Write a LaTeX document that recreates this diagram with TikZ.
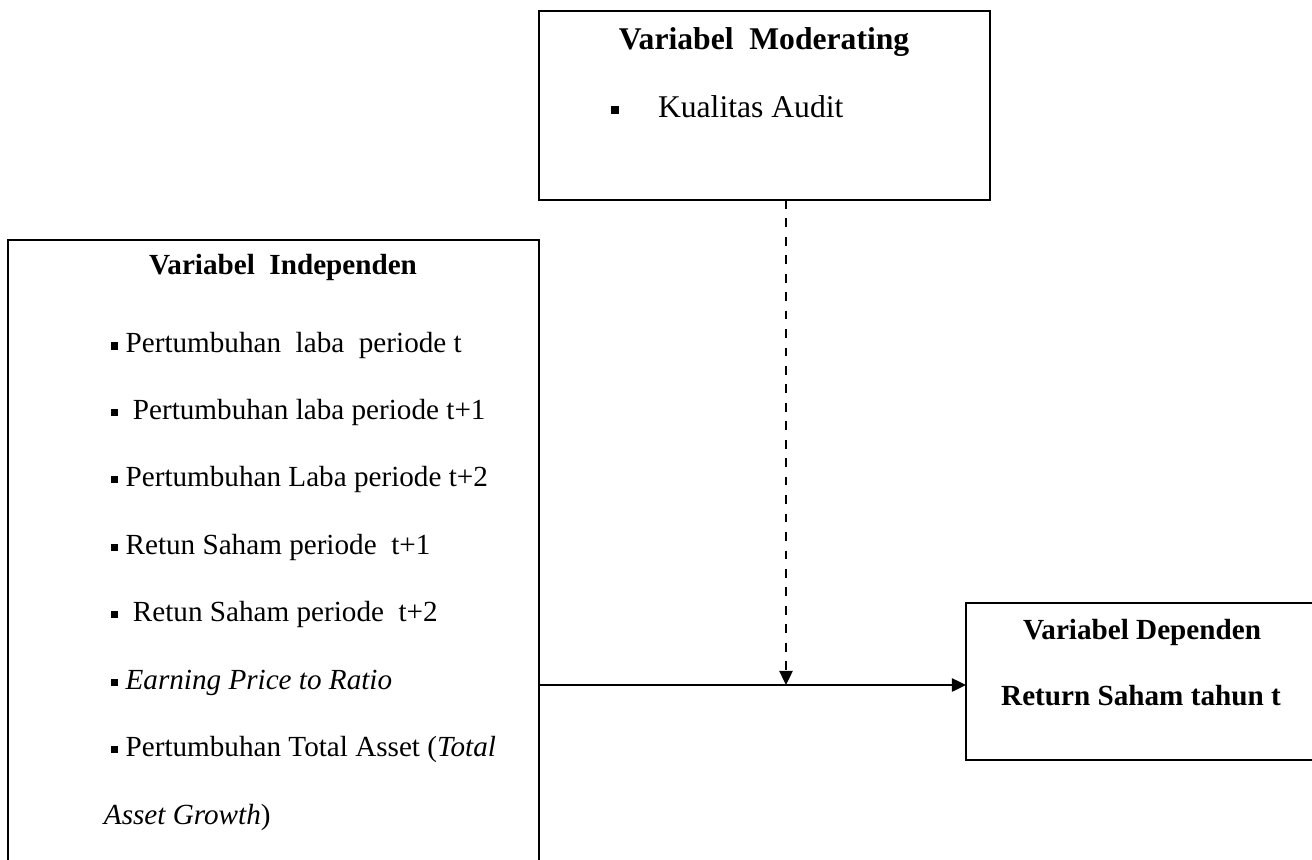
\documentclass[tikz,border=0pt]{standalone}
\usepackage{fontspec}
\setmainfont{Liberation Serif}
\usetikzlibrary{arrows.meta}
\newcommand{\sqb}[1][4.2pt]{\rule[1.7pt]{#1}{#1}}

\begin{document}
\begin{tikzpicture}[x=0.02cm, y=-0.02cm, >={Triangle[length=8pt,width=7.5pt]}, line width=1.1pt,
    box/.style={draw, inner sep=0pt, outer sep=0pt},
    txt/.style={font=\fontsize{16.6}{20}\selectfont, inner sep=0pt},
    head/.style={font=\fontsize{16.6}{20}\selectfont\bfseries, inner sep=0pt, anchor=mid},
    item/.style={txt, anchor=mid west}]
    \useasboundingbox (0,0) rectangle (1312,859);

    % Moderating box
    \node[box, minimum width=9.02cm, minimum height=3.78cm] (mod) at (764.5,105.5) {};
    \node[head, font=\fontsize{18}{22}\selectfont\bfseries] (modtitle) at (764,45) {Variabel\ \ Moderating};
    \node[item, font=\fontsize{18}{22}\selectfont] (audit) at (610,113) {\sqb[4.6pt]\hspace{0.78cm}Kualitas Audit};

    % Independent box
    \node[box, minimum width=10.62cm, minimum height=12.6cm] (indep) at (273.5,555) {};
    \node[head] (indeptitle) at (283,270.5) {Variabel\ \ Independen};
    \node[item] (ind1) at (110,348.5) {\sqb\ Pertumbuhan\ \ laba\ \ periode t};
    \node[item] (ind2) at (110,415) {\sqb\ \ Pertumbuhan laba periode t+1};
    \node[item] (ind3) at (110,482) {\sqb\ Pertumbuhan Laba periode t+2};
    \node[item] (ind4) at (110,550) {\sqb\ Retun Saham periode\ \ t+1};
    \node[item] (ind5) at (110,617) {\sqb\ \ Retun Saham periode\ \ t+2};
    \node[item] (ind6) at (110,685) {\sqb\ \textit{Earning Price to Ratio}};
    \node[item] (ind7) at (110,752) {\sqb\ Pertumbuhan Total Asset (\textit{Total}};
    \node[item] (ind8) at (103,820) {\textit{Asset Growth})};

    % Dependent box
    \node[box, minimum width=7.08cm, minimum height=3.14cm] (dep) at (1143,681.5) {};
    \node[head] (deptitle) at (1142,635.5) {Variabel Dependen};
    \node[head] (depitem) at (1141,701.5) {Return Saham tahun t};

    % Arrows
    \coordinate (junc) at (786,685);
    \draw[->] (indep.east |- junc) -- (dep.west |- junc);
    \draw[->, dash pattern=on 5pt off 5.5pt] (mod.south -| junc) -- (junc);
\end{tikzpicture}
\end{document}
